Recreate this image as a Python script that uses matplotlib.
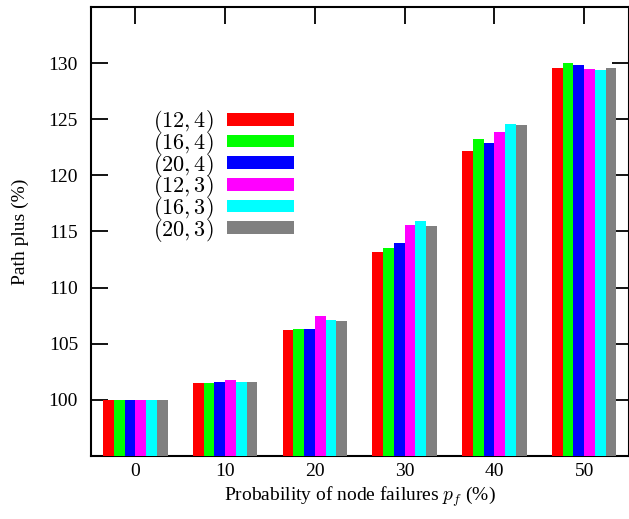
import numpy as np
import matplotlib
matplotlib.use("Agg")
import matplotlib.pyplot as plt

# Path plus for each node-failure probability, one series per (n, k) setting
failure_prob = [0, 10, 20, 30, 40, 50]
series_labels = [r"$(12,4)$", r"$(16,4)$", r"$(20,4)$",
                 r"$(12,3)$", r"$(16,3)$", r"$(20,3)$"]
path_12_4 = [100.0, 101.5, 106.2, 113.2, 122.2, 129.6]
path_16_4 = [100.0, 101.5, 106.3, 113.55, 123.2, 130.05]
path_20_4 = [100.0, 101.6, 106.35, 114.0, 122.9, 129.8]
path_12_3 = [100.0, 101.8, 107.5, 115.55, 123.9, 129.5]
path_16_3 = [100.0, 101.6, 107.15, 115.9, 124.6, 129.35]
path_20_3 = [100.0, 101.6, 107.05, 115.5, 124.45, 129.55]
series = [path_12_4, path_16_4, path_20_4, path_12_3, path_16_3, path_20_3]
colors = ["#ff0000", "#00ff00", "#0000ff", "#ff00ff", "#00ffff", "#808080"]

plt.rcParams["font.family"] = "Liberation Serif"
plt.rcParams["mathtext.fontset"] = "cm"
plt.rcParams["font.size"] = 14

fig = plt.figure(figsize=(6.29, 5.19), dpi=100)
ax = fig.add_axes([0.1439, 0.1214, 0.8561, 0.8651])

x = np.arange(len(failure_prob))
width = 0.12
handles = []
for i, (vals, col) in enumerate(zip(series, colors)):
    b = ax.bar(x + (i - 2.5) * width, vals, width, color=col, zorder=3,
               linewidth=0)
    handles.append(b)

ax.set_xlim(-0.5, 5.5)
ax.set_ylim(95, 135)
ax.set_xticks(x)
ax.set_xticklabels([str(v) for v in failure_prob])
ax.set_yticks(range(100, 131, 5))
ax.tick_params(direction="in", length=12, width=1.3, top=True, right=True,
               labelsize=14)
ax.tick_params(axis="x", pad=5)
ax.tick_params(axis="y", pad=9)
for s in ax.spines.values():
    s.set_linewidth(1.5)

ax.set_xlabel(r"Probability of node failures $p_f$ (%)", fontsize=14,
              labelpad=3)
ax.set_ylabel("Path plus (%)", fontsize=14, labelpad=14)

ax.legend(handles, series_labels, markerfirst=False, frameon=False,
          loc="upper left", bbox_to_anchor=(0.095, 0.799), borderpad=0,
          handlelength=3.05, handleheight=0.5, handletextpad=0.6,
          labelspacing=-0.24, fontsize=16)

fig.savefig("out.png", dpi=100)
